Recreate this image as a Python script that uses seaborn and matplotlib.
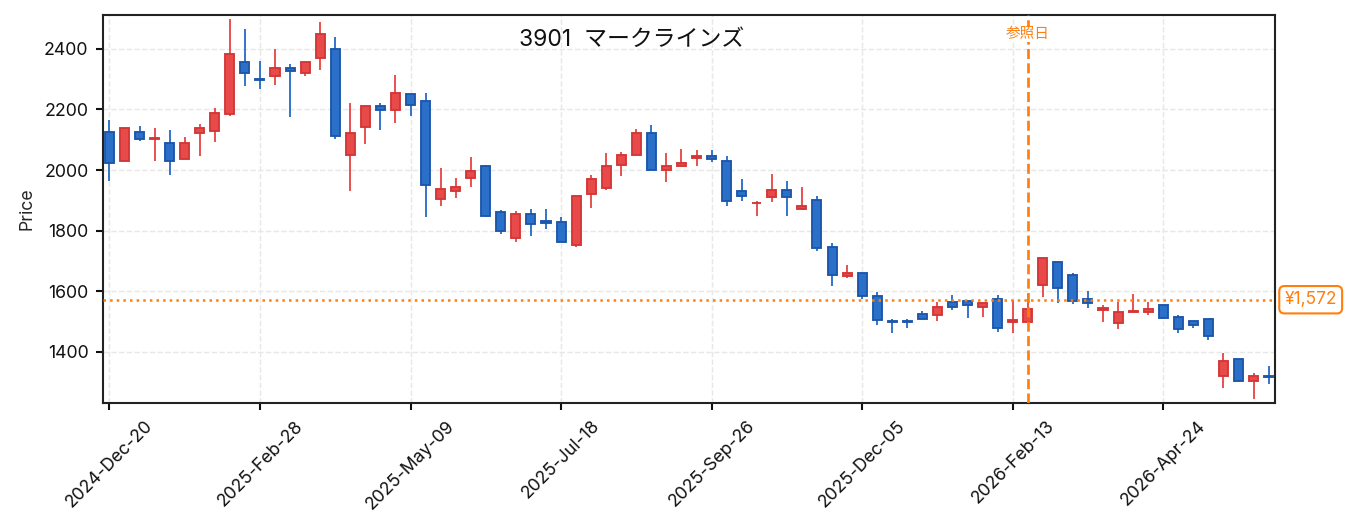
import pandas as pd
import seaborn as sns
import matplotlib.pyplot as plt
import matplotlib.dates as mdates
import matplotlib.transforms as mtransforms
from matplotlib.ticker import MultipleLocator

# -----------------------------
# Data (weekly candles)
# -----------------------------
title = "3901  マークラインズ"
first_week = "2024-12-20"
ref_date = "2026-02-20"
ref_price = 1572

opens = [2125, 2031, 2125, 2101, 2089, 2035, 2124, 2128, 2186, 2358,
         2299, 2310, 2338, 2320, 2370, 2400, 2051, 2141, 2212, 2197,
         2252, 2228, 1905, 1931, 1975, 2012, 1863, 1777, 1856, 1833,
         1830, 1752, 1922, 1941, 2018, 2051, 2124, 2001, 2014, 2041,
         2045, 2030, 1931, 1890, 1912, 1934, 1872, 1901, 1746, 1651,
         1660, 1584, 1501, 1501, 1524, 1520, 1563, 1567, 1547, 1573,
         1499, 1499, 1621, 1696, 1654, 1574, 1537, 1496, 1530, 1530,
         1554, 1515, 1503, 1508, 1321, 1376, 1305, 1320]
highs = [2164, 2140, 2144, 2138, 2131, 2108, 2151, 2204, 2500, 2466,
         2360, 2400, 2350, 2358, 2490, 2439, 2220, 2212, 2220, 2314,
         2252, 2256, 2008, 1975, 2044, 2018, 1868, 1864, 1872, 1872,
         1845, 1916, 1983, 2057, 2061, 2136, 2150, 2057, 2071, 2066,
         2065, 2047, 1971, 1899, 1986, 1965, 1943, 1915, 1760, 1685,
         1660, 1598, 1509, 1509, 1535, 1563, 1586, 1567, 1562, 1588,
         1570, 1591, 1709, 1696, 1660, 1602, 1556, 1566, 1591, 1566,
         1554, 1523, 1503, 1508, 1397, 1376, 1331, 1352]
lows = [1963, 2030, 2096, 2031, 1983, 2035, 2046, 2092, 2179, 2278,
        2268, 2282, 2175, 2311, 2331, 2103, 1932, 2086, 2133, 2155,
        2177, 1846, 1883, 1909, 1943, 1844, 1788, 1764, 1781, 1807,
        1762, 1746, 1876, 1933, 1982, 2051, 2001, 1962, 2014, 2014,
        2026, 1881, 1898, 1848, 1894, 1848, 1868, 1733, 1617, 1644,
        1573, 1488, 1462, 1478, 1507, 1501, 1539, 1511, 1515, 1466,
        1463, 1499, 1580, 1560, 1558, 1545, 1498, 1476, 1530, 1522,
        1509, 1463, 1479, 1440, 1280, 1302, 1245, 1294]
closes = [2024, 2139, 2101, 2105, 2031, 2089, 2139, 2189, 2384, 2320,
          2296, 2338, 2327, 2358, 2448, 2114, 2122, 2212, 2197, 2255,
          2216, 1951, 1936, 1943, 1996, 1849, 1799, 1856, 1823, 1826,
          1762, 1916, 1972, 2015, 2049, 2124, 2001, 2012, 2022, 2045,
          2035, 1897, 1916, 1892, 1934, 1912, 1881, 1744, 1652, 1659,
          1584, 1504, 1497, 1497, 1507, 1548, 1547, 1553, 1562, 1480,
          1504, 1541, 1709, 1612, 1568, 1560, 1544, 1531, 1534, 1541,
          1513, 1474, 1490, 1451, 1369, 1305, 1320, 1316]

df = pd.DataFrame({'open': opens, 'high': highs, 'low': lows, 'close': closes})
df['date'] = pd.date_range(first_week, periods=len(df), freq='7D')
df['up'] = df['close'] >= df['open']

# -----------------------------
# Style
# -----------------------------
sns.set_theme(style="ticks")
plt.rcParams['font.family'] = ['Inter', 'Noto Sans CJK JP', 'DejaVu Sans']

orange = '#ff7f0e'
styles = {
    True: ('#e84a4a', '#d33636'),
    False: ('#2b70c8', '#1c56ab'),
}

fig, ax = plt.subplots(figsize=(9.02, 3.54), dpi=150)
fig.subplots_adjust(left=0.0761, right=0.9424, top=0.9718, bottom=0.241)

# -----------------------------
# Candles
# -----------------------------
for is_up, (face, edge) in styles.items():
    sub = df[df['up'] == is_up]
    ax.vlines(sub['date'], sub['low'], sub['high'],
              color=face, linewidth=0.9, zorder=2)
    ax.bar(sub['date'],
           (sub['close'] - sub['open']).abs(),
           bottom=sub[['open', 'close']].min(axis=1),
           width=4.2, color=face, edgecolor=edge,
           linewidth=0.9, zorder=3)

# -----------------------------
# Reference markers
# -----------------------------
ref = pd.Timestamp(ref_date)
ax.axvline(ref, color=orange, linestyle='--', linewidth=1.3, zorder=4)
ax.axhline(ref_price, color=orange, linestyle=':', linewidth=1.2, zorder=4)

blend_x = mtransforms.blended_transform_factory(ax.transData, ax.transAxes)
ax.text(ref, 0.951, '参照日', transform=blend_x, ha='center', va='center',
        fontsize=7, color=orange, zorder=5,
        family=['Noto Sans CJK JP', 'DejaVu Sans'],
        bbox=dict(boxstyle='square,pad=0.1', fc='white', ec='none'))

blend_y = mtransforms.blended_transform_factory(ax.transAxes, ax.transData)
ax.annotate(f'¥{ref_price:,}', xy=(1, ref_price), xycoords=blend_y,
            xytext=(4.5, 0), textcoords='offset points',
            ha='left', va='center', fontsize=8.3, color=orange,
            bbox=dict(boxstyle='round,pad=0.3', fc='white', ec=orange, lw=1),
            annotation_clip=False)

ax.text(0.451, 0.936, title, transform=ax.transAxes,
        ha='center', va='center', fontsize=11, color='#111111')

# -----------------------------
# Axes
# -----------------------------
ax.set_xlim(df['date'].iloc[0] - pd.Timedelta(days=3),
            df['date'].iloc[-1] + pd.Timedelta(days=3))
ax.set_ylim(1231, 2512)
ax.set_xticks(df['date'].iloc[::10])
ax.xaxis.set_major_formatter(mdates.DateFormatter('%Y-%b-%d'))
ax.yaxis.set_major_locator(MultipleLocator(200))
plt.setp(ax.get_xticklabels(), rotation=45, ha='center')

ax.set_ylabel('Price', fontsize=8.5)
ax.set_xlabel('')
ax.tick_params(labelsize=8.5, length=3.5, width=1, colors='#111111')
ax.grid(True, linestyle='--', linewidth=0.7, color='#e8e8e8')
ax.set_axisbelow(True)
for spine in ax.spines.values():
    spine.set_linewidth(1.0)
    spine.set_color('#222222')

fig.savefig('out.png', dpi=150)
plt.close(fig)
